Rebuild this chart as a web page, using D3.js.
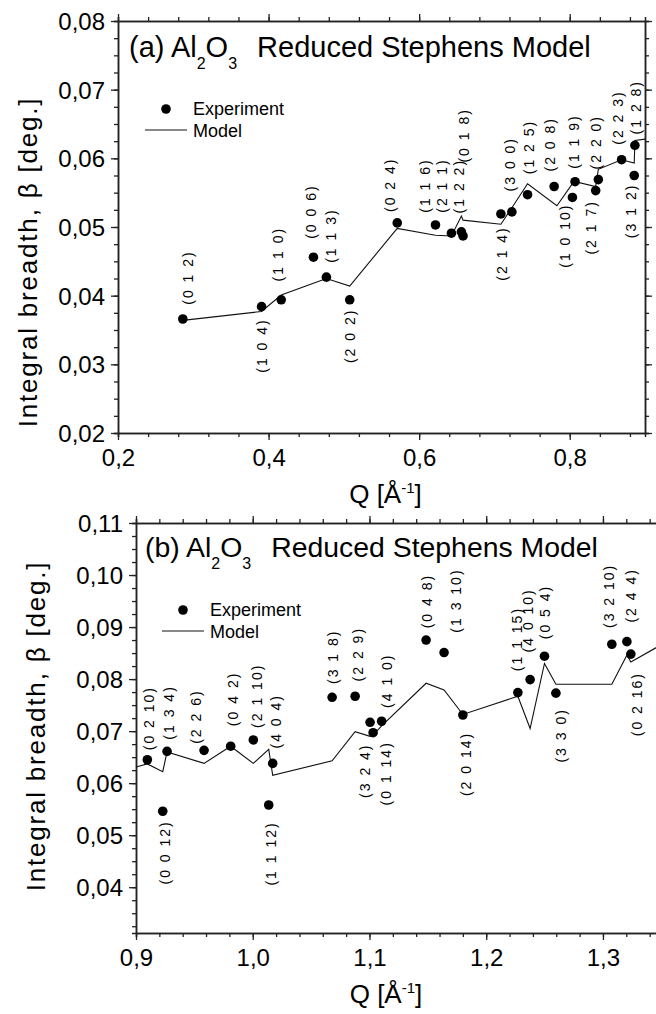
<!DOCTYPE html>
<html><head><meta charset="utf-8">
<script src="https://cdn.jsdelivr.net/npm/d3@7"></script>
<style>
body{margin:0;background:#fff}
svg{display:block}
text{font-family:Arial,"Liberation Sans",sans-serif;fill:#000}
</style>
</head><body>
<svg id="chart" width="656" height="1014"></svg>
<script>
// ---------- Panel (a) data ----------
const hklA   = ["(0 1 2)","(1 0 4)","(1 1 0)","(0 0 6)","(1 1 3)","(2 0 2)","(0 2 4)","(1 1 6)","(2 1 1)","(1 2 2)","(0 1 8)","(2 1 4)","(3 0 0)","(1 2 5)","(2 0 8)","(1 0 10)","(1 1 9)","(2 1 7)","(2 2 0)","(2 2 3)","(3 1 2)","(1 2 8)"];
const qA     = [0.2861,0.3907,0.4168,0.4596,0.4768,0.5078,0.5709,0.6217,0.6429,0.6561,0.6583,0.7086,0.7232,0.7440,0.7793,0.8036,0.8071,0.8345,0.8380,0.8689,0.8857,0.8866];
const betaA  = [0.0366,0.0384,0.0394,0.0456,0.0427,0.0394,0.0506,0.0503,0.0491,0.0493,0.0487,0.0519,0.0522,0.0547,0.0559,0.0543,0.0566,0.0553,0.0569,0.0598,0.0575,0.0619];
const modelQA    = [0.2861,0.3907,0.4168,0.4596,0.4768,0.5078,0.5709,0.6217,0.6429,0.6561,0.6583,0.7086,0.7232,0.7440,0.7830,0.8036,0.8071,0.8345,0.8380,0.8689,0.8857,0.8866,0.9000];
const modelBetaA = [0.0364,0.0377,0.0401,0.0418,0.0425,0.0414,0.0498,0.0488,0.0487,0.0516,0.0510,0.0504,0.0528,0.0563,0.0531,0.0563,0.0566,0.0559,0.0584,0.0598,0.0593,0.0626,0.0628];
// label anchors (data units, centre of rotated label)
const labelQA    = [0.2917,0.3893,0.4105,0.4548,0.4814,0.5066,0.5604,0.6059,0.6285,0.6515,0.6581,0.7082,0.7193,0.7449,0.7724,0.7924,0.8047,0.8269,0.8336,0.8624,0.8801,0.8867];
const labelBetaA = [0.0425,0.0326,0.0459,0.0521,0.0486,0.0340,0.0560,0.0559,0.0559,0.0558,0.0632,0.0460,0.0590,0.0615,0.0619,0.0486,0.0623,0.0498,0.0622,0.0658,0.0522,0.0673];
const xTicksA = [0.2,0.4,0.6,0.8];
const xTickLabelsA = ["0,2","0,4","0,6","0,8"];
const yTicksA = [0.02,0.03,0.04,0.05,0.06,0.07,0.08];
const yTickLabelsA = ["0,02","0,03","0,04","0,05","0,06","0,07","0,08"];

// ---------- Panel (b) data ----------
const hklB   = ["(0 2 10)","(0 0 12)","(1 3 4)","(2 2 6)","(0 4 2)","(2 1 10)","(1 1 12)","(4 0 4)","(3 1 8)","(2 2 9)","(3 2 4)","(0 1 14)","(4 1 0)","(0 4 8)","(1 3 10)","(2 0 14)","(1 1 15)","(4 0 10)","(0 5 4)","(3 3 0)","(3 2 10)","(2 4 4)","(0 2 16)"];
const qB     = [0.9097,0.9229,0.9266,0.9583,0.9811,1.0005,1.0137,1.0171,1.0680,1.0877,1.1005,1.1031,1.1104,1.1485,1.1639,1.1800,1.2271,1.2376,1.2499,1.2597,1.3076,1.3205,1.3239];
const betaB  = [0.0645,0.0546,0.0661,0.0663,0.0671,0.0683,0.0558,0.0638,0.0765,0.0767,0.0717,0.0697,0.0719,0.0875,0.0851,0.0731,0.0774,0.0799,0.0844,0.0773,0.0867,0.0872,0.0848];
const modelQB    = [0.9000,0.9097,0.9229,0.9266,0.9583,0.9811,1.0005,1.0137,1.0171,1.0680,1.0877,1.1005,1.1031,1.1104,1.1485,1.1639,1.1800,1.2271,1.2376,1.2499,1.2597,1.3076,1.3205,1.3239,1.3500];
const modelBetaB = [0.0631,0.0637,0.0622,0.0660,0.0638,0.0671,0.0638,0.0665,0.0615,0.0643,0.0699,0.0690,0.0692,0.0710,0.0792,0.0779,0.0732,0.0767,0.0705,0.0830,0.0790,0.0790,0.0846,0.0833,0.0866];
const labelQB    = [0.9105,0.9240,0.9277,0.9506,0.9820,1.0026,1.0148,1.0191,1.0677,1.0891,1.0954,1.1134,1.1140,1.1482,1.1734,1.1819,1.2254,1.2353,1.2496,1.2633,1.3047,1.3233,1.3282];
const labelBetaB = [0.0723,0.0465,0.0734,0.0726,0.0760,0.0766,0.0463,0.0717,0.0841,0.0846,0.0622,0.0617,0.0795,0.0948,0.0949,0.0635,0.0875,0.0911,0.0927,0.0690,0.0958,0.0959,0.0750];
const xTicksB = [0.9,1.0,1.1,1.2,1.3];
const xTickLabelsB = ["0,9","1,0","1,1","1,2","1,3"];
const yTicksB = [0.04,0.05,0.06,0.07,0.08,0.09,0.10,0.11];
const yTickLabelsB = ["0,04","0,05","0,06","0,07","0,08","0,09","0,10","0,11"];

const svg = d3.select("#chart");

function drawPanel(p) {
  const x = d3.scaleLinear().domain(p.xDomain).range([p.left, p.right]);
  const y = d3.scaleLinear().domain(p.yDomain).range([p.bottom, p.top]);
  const g = svg.append("g");
  const id = "clip" + p.name;
  svg.append("clipPath").attr("id", id).append("rect")
    .attr("x", p.left).attr("y", p.top).attr("width", p.right - p.left).attr("height", p.bottom - p.top);

  const xMinor = d3.range(p.xDomain[0], p.xDomain[1] + 1e-9, p.xMinorStep);
  const yMinor = d3.range(Math.ceil(p.yDomain[0] / p.yMinorStep - 1e-6) * p.yMinorStep, p.yDomain[1] + 1e-9, p.yMinorStep);

  function axisStyle(sel) {
    sel.selectAll("path.domain").attr("stroke", "#222").attr("stroke-width", 1.5);
    sel.selectAll(".tick line").attr("stroke", "#222").attr("stroke-width", 1.3);
    sel.selectAll(".tick text").attr("font-size", 24).attr("fill", "#000")
      .attr("font-family", "Arial, 'Liberation Sans', sans-serif");
  }
  const mk = (ax, trans) => g.append("g").attr("transform", trans).call(ax).call(axisStyle);
  // minor ticks
  mk(d3.axisBottom(x).tickValues(xMinor).tickSize(4).tickFormat(""), `translate(0,${p.bottom})`);
  mk(d3.axisTop(x).tickValues(xMinor).tickSize(4).tickFormat(""), `translate(0,${p.top})`);
  mk(d3.axisLeft(y).tickValues(yMinor).tickSize(4).tickFormat(""), `translate(${p.left},0)`);
  if (p.rightAxis) mk(d3.axisRight(y).tickValues(yMinor).tickSize(4).tickFormat(""), `translate(${p.right},0)`);
  // major ticks
  const bx = mk(d3.axisBottom(x).tickValues(p.xTicks).tickSizeInner(7).tickSizeOuter(0).tickPadding(6)
      .tickFormat((d, i) => p.xTickLabels[i]), `translate(0,${p.bottom})`);
  bx.selectAll(".tick text").attr("dy", null).attr("y", 33);
  mk(d3.axisTop(x).tickValues(p.xTicks).tickSizeInner(7).tickSizeOuter(0).tickFormat(""), `translate(0,${p.top})`);
  const ly = mk(d3.axisLeft(y).tickValues(p.yTicks).tickSizeInner(7).tickSizeOuter(0).tickPadding(6)
      .tickFormat((d, i) => p.yTickLabels[i]), `translate(${p.left},0)`);
  ly.selectAll(".tick text").attr("dy", "0.36em");
  if (p.rightAxis) mk(d3.axisRight(y).tickValues(p.yTicks).tickSizeInner(7).tickSizeOuter(0).tickFormat(""), `translate(${p.right},0)`);

  // model line
  const line = d3.line().x((d, i) => x(p.modelQ[i])).y((d, i) => y(p.modelBeta[i]));
  g.append("path").datum(p.modelQ).attr("d", line).attr("fill", "none")
    .attr("stroke", "#111").attr("stroke-width", 1.1).attr("clip-path", `url(#${id})`);

  // experiment points
  g.selectAll("circle.exp").data(p.q).enter().append("circle")
    .attr("cx", (d) => x(d)).attr("cy", (d, i) => y(p.beta[i])).attr("r", 4.8).attr("fill", "#000");

  // hkl labels
  g.selectAll("text.hkl").data(p.hkl).enter().append("text")
    .attr("transform", (d, i) => `translate(${x(p.labelQ[i]) + 1},${y(p.labelBeta[i]) - 1}) rotate(-90)`)
    .attr("text-anchor", "middle").attr("dy", "0.36em")
    .attr("font-size", 14).attr("letter-spacing", "2px").attr("fill", "#1a1020")
    .text((d) => d);

  // title
  const t = g.append("text").attr("x", p.titleX).attr("y", p.titleY).attr("font-size", p.titleSize);
  t.append("tspan").text(p.tag + " Al");
  t.append("tspan").attr("font-size", 16).attr("dy", 12).text("2");
  t.append("tspan").attr("dy", -12).text("O");
  t.append("tspan").attr("font-size", 16).attr("dy", 12).text("3");
  t.append("tspan").attr("dy", -12).attr("dx", 20).text("Reduced Stephens Model");

  // legend
  g.append("circle").attr("cx", p.legX + 21).attr("cy", p.legY - 6).attr("r", 4.8).attr("fill", "#000");
  g.append("text").attr("x", p.legX + 48).attr("y", p.legY).attr("font-size", 18).text("Experiment");
  g.append("line").attr("x1", p.legX).attr("x2", p.legX + 42).attr("y1", p.legY + 15).attr("y2", p.legY + 15)
    .attr("stroke", "#111").attr("stroke-width", 1.1);
  g.append("text").attr("x", p.legX + 48).attr("y", p.legY + 22).attr("font-size", 18).text("Model");

  // axis titles
  g.append("text").attr("x", (p.left + Math.min(p.right, 656)) / 2 + p.qTitleShift).attr("y", p.bottom + 70)
    .attr("text-anchor", "middle").attr("font-size", 26)
    .call((s) => {
      s.append("tspan").text("Q [Å");
      s.append("tspan").attr("font-size", 15).attr("dy", -10).text("-1");
      s.append("tspan").attr("dy", 10).text("]");
    });
  g.append("text").attr("transform", `translate(${p.yTitleX},${p.yTitleY}) rotate(-90)`)
    .attr("text-anchor", "middle").attr("font-size", 26).attr("letter-spacing", "1.8px")
    .text("Integral breadth, β [deg.]");
}

drawPanel({
  name: "A", left: 118, right: 645, top: 21, bottom: 433,
  xDomain: [0.2, 0.9], yDomain: [0.02, 0.08], xMinorStep: 0.04, yMinorStep: 0.0025,
  xTicks: xTicksA, xTickLabels: xTickLabelsA, yTicks: yTicksA, yTickLabels: yTickLabelsA,
  q: qA, beta: betaA, hkl: hklA, modelQ: modelQA, modelBeta: modelBetaA,
  labelQ: labelQA, labelBeta: labelBetaA, rightAxis: true, titleSize: 29,
  tag: "(a)", titleX: 129, titleY: 57, legX: 145, legY: 115, yTitleX: 37, yTitleY: 262, qTitleShift: 4
});
drawPanel({
  name: "B", left: 136, right: 673, top: 523, bottom: 933,
  xDomain: [0.9, 1.36], yDomain: [0.0312, 0.11], xMinorStep: 0.02, yMinorStep: 0.0025,
  xTicks: xTicksB, xTickLabels: xTickLabelsB, yTicks: yTicksB, yTickLabels: yTickLabelsB,
  q: qB, beta: betaB, hkl: hklB, modelQ: modelQB, modelBeta: modelBetaB,
  labelQ: labelQB, labelBeta: labelBetaB, rightAxis: false, titleSize: 28.4,
  tag: "(b)", titleX: 145, titleY: 557, legX: 162, legY: 616, yTitleX: 45, yTitleY: 726, qTitleShift: -10
});
</script>
</body></html>
